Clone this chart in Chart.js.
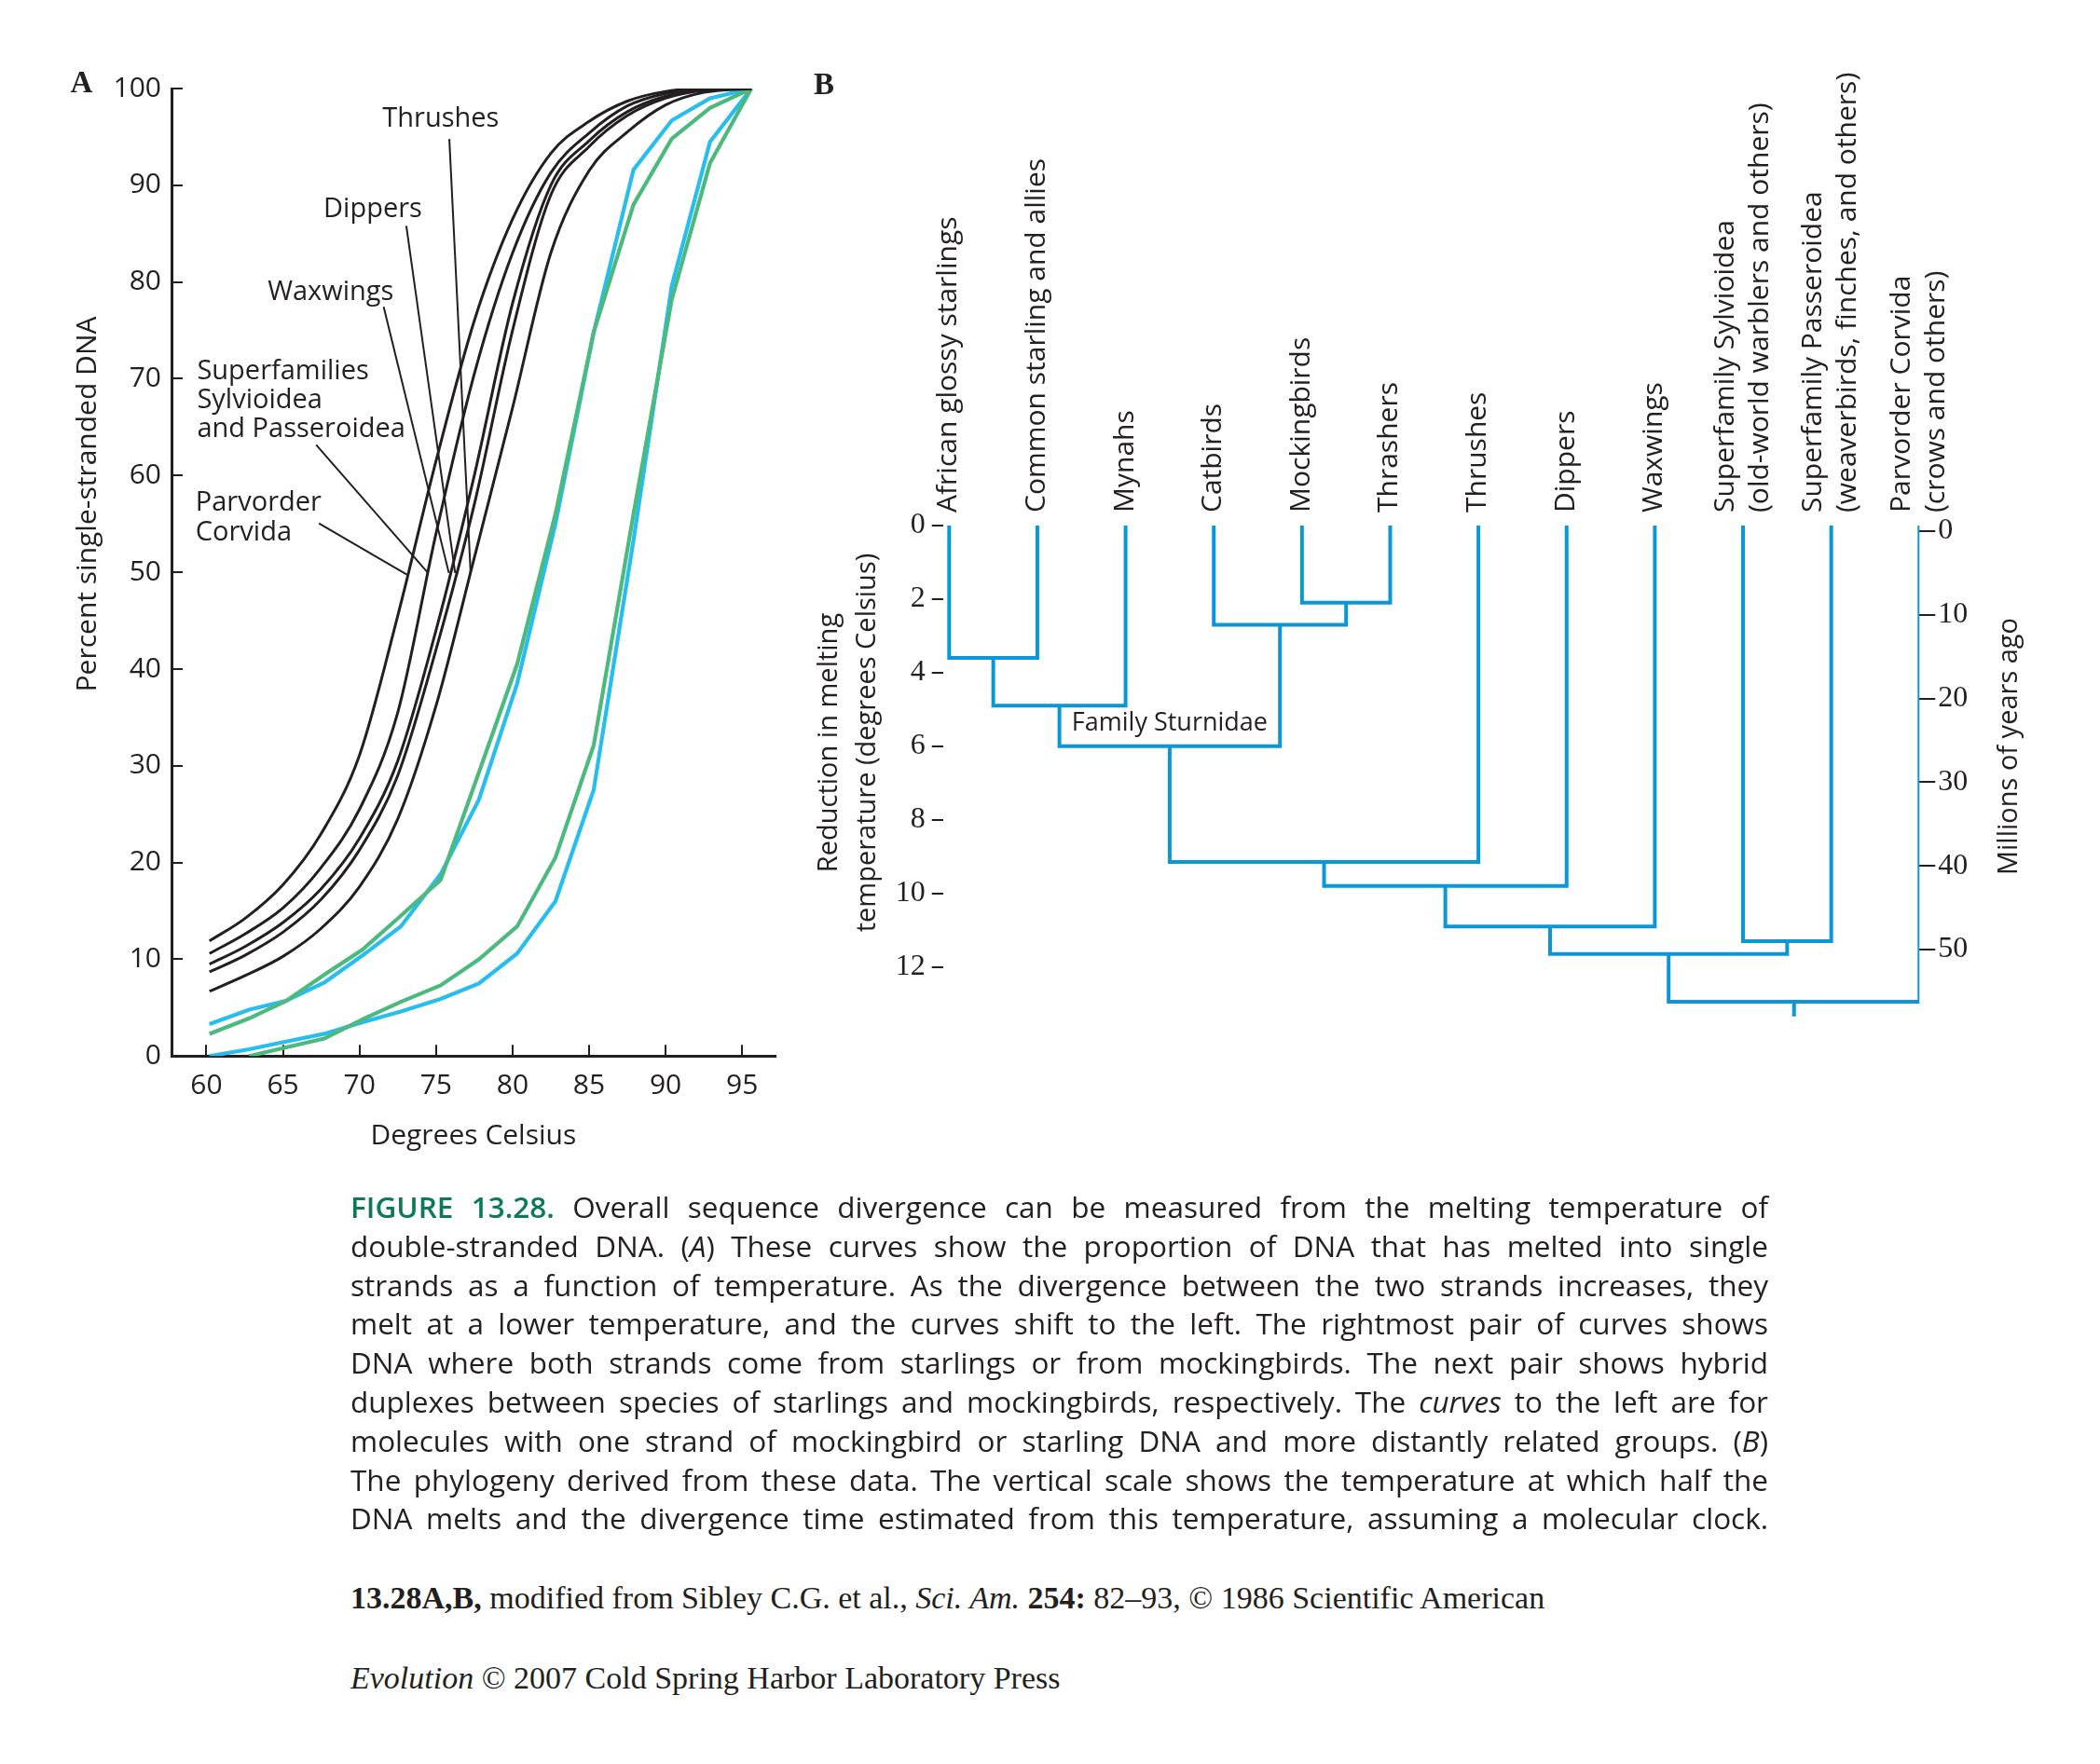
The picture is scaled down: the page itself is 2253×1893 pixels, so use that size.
<!DOCTYPE html>
<html>
<head>
<meta charset="utf-8">
<script src="https://cdn.jsdelivr.net/npm/chart.js@4.4.1/dist/chart.umd.min.js"></script>
<style>
html, body { margin: 0; padding: 0; background: #ffffff; }
body { width: 2253px; height: 1893px; position: relative; overflow: hidden; font-family: "Open Sans", sans-serif; color: #231f20; }
#wrapA { position: absolute; left: 0; top: 0; width: 900px; height: 1300px; }
#wrapB { position: absolute; left: 860px; top: 0; width: 1393px; height: 1150px; }
.caption { position: absolute; left: 376px; top: 1274px; width: 1521px; font-size: 31.5px; line-height: 41.8px; }
.caption div { white-space: nowrap; text-align: justify; text-align-last: justify; }
.fig { color: #0b7a55; font-weight: 600; }
.credit { position: absolute; left: 376px; font-family: "Liberation Serif", serif; font-size: 34px; line-height: 38px; white-space: nowrap; }
</style>
</head>
<body>
<div id="wrapA"><canvas id="chartA" width="900" height="1300"></canvas></div>
<div id="wrapB"><canvas id="chartB" width="1393" height="1150"></canvas></div>

<div class="caption">
<div><span class="fig">FIGURE 13.28.</span> Overall sequence divergence can be measured from the melting temperature of</div>
<div>double-stranded DNA. (<i>A</i>) These curves show the proportion of DNA that has melted into single</div>
<div>strands as a function of temperature. As the divergence between the two strands increases, they</div>
<div>melt at a lower temperature, and the curves shift to the left. The rightmost pair of curves shows</div>
<div>DNA where both strands come from starlings or from mockingbirds. The next pair shows hybrid</div>
<div>duplexes between species of starlings and mockingbirds, respectively. The <i>curves</i> to the left are for</div>
<div>molecules with one strand of mockingbird or starling DNA and more distantly related groups. (<i>B</i>)</div>
<div>The phylogeny derived from these data. The vertical scale shows the temperature at which half the</div>
<div>DNA melts and the divergence time estimated from this temperature, assuming a molecular clock.</div>
</div>
<div class="credit" style="top:1696px;"><b>13.28A,B,</b> modified from Sibley C.G. et al., <i>Sci. Am.</i> <b>254:</b> 82–93, © 1986 Scientific American</div>
<div class="credit" style="top:1782px;"><i>Evolution</i> © 2007 Cold Spring Harbor Laboratory Press</div>

<script>
// ---------------- DATA: panel A (melting curves) ----------------
const xTicksA = [60, 65, 70, 75, 80, 85, 90, 95];
const yTicksA = [0, 10, 20, 30, 40, 50, 60, 70, 80, 90, 100];

const blackTemps = [60.2, 62.5, 65, 67.5, 70, 72.5, 75, 77.5, 80, 82.5, 85, 87.5, 90, 92.5, 95.6];
const corvidaCurve       = [11.9, 14.2, 17.7, 23.0, 31.1, 45.5, 61.5, 76.0, 86.5, 93.3, 96.6, 98.7, 99.7, 100, 100];
const superfamiliesCurve = [10.6, 12.6, 15.3, 19.5, 25.5, 35.5, 54.0, 70.5, 83.0, 91.3, 95.4, 98.2, 99.5, 100, 100];
const waxwingsCurve      = [9.5, 11.3, 13.8, 17.3, 22.5, 30.5, 44.0, 60.0, 77.8, 90.0, 94.6, 97.6, 99.2, 99.9, 100];
const dippersCurve       = [8.7, 10.4, 12.8, 16.2, 21.3, 29.0, 42.0, 57.0, 75.0, 89.0, 94.0, 97.2, 99.0, 99.8, 100];
const thrushesCurve      = [6.7, 8.3, 10.3, 13.2, 17.5, 24.5, 36.2, 51.5, 67.0, 83.0, 91.5, 95.5, 98.3, 99.6, 100];

const colouredTemps = [60.2, 62.8, 65.2, 67.7, 70.2, 72.7, 75.3, 77.8, 80.3, 82.8, 85.3, 87.9, 90.4, 92.9, 95.6];
const hybridBlue  = [3.3, 4.8, 5.7, 7.6, 10.4, 13.4, 18.8, 26.5, 38.5, 55.0, 74.8, 91.6, 96.7, 99.0, 100];
const hybridGreen = [2.3, 3.9, 5.7, 8.4, 11.0, 14.5, 18.2, 29.3, 40.5, 56.0, 74.8, 88.0, 94.8, 98.0, 100];
const sameBlue    = [0, 0.7, 1.5, 2.3, 3.5, 4.6, 5.9, 7.5, 10.6, 16.0, 27.5, 53.3, 79.6, 94.5, 100];
const sameGreen   = [null, 0, 0.9, 1.8, 3.8, 5.6, 7.3, 10.0, 13.4, 20.5, 32.1, 56.0, 78.2, 92.3, 100];

// curve labels with leader lines (data coordinates)
const curveNotes = [
  { lines: ['Thrushes'], align: 'center', x: 75.31, y: [96.83], from: [75.87, 94.79], to: [77.26, 49.93] },
  { lines: ['Dippers'], align: 'center', x: 70.87, y: [87.48], from: [73.06, 85.81], to: [76.25, 49.93] },
  { lines: ['Waxwings'], align: 'center', x: 68.12, y: [78.90], from: [71.58, 77.43], to: [75.84, 49.93] },
  { lines: ['Superfamilies', 'Sylvioidea', 'and Passeroidea'], align: 'left', x: 59.39, y: [70.76, 67.8, 64.8], from: [67.17, 63.18], to: [74.48, 49.93] },
  { lines: ['Parvorder', 'Corvida'], align: 'left', x: 59.29, y: [57.14, 54.09], from: [67.35, 55.05], to: [73.10, 49.76] }
];

// ---------------- DATA: panel B (phylogeny) ----------------
const taxa = [
  ['African glossy starlings'],
  ['Common starling and allies'],
  ['Mynahs'],
  ['Catbirds'],
  ['Mockingbirds'],
  ['Thrashers'],
  ['Thrushes'],
  ['Dippers'],
  ['Waxwings'],
  ['Superfamily Sylvioidea', '(old-world warblers and others)'],
  ['Superfamily Passeroidea', '(weaverbirds, finches, and others)'],
  ['Parvorder Corvida', '(crows and others)']
];
// merges (like a linkage table): node 12 + k joins mergeLeft[k] and mergeRight[k] at mergeTemp[k]
const mergeLeft  = [0, 12, 4, 3, 13, 16, 17, 18, 9, 19, 21];
const mergeRight = [1, 2, 5, 14, 15, 6, 7, 8, 10, 20, 11];
const mergeTemp  = [3.6, 4.9, 2.1, 2.7, 6.0, 9.15, 9.8, 10.9, 11.3, 11.65, 12.95];
const rootStemEnd = 13.35;
const tempTicks = [0, 2, 4, 6, 8, 10, 12];
const myaTicks = [0, 10, 20, 30, 40, 50];
const myaPerDegree = 4.394;
const tempAtZeroMya = 0.15;
const tempMax = 13.4;
const familyNote = { text: 'Family Sturnidae', node: 16, temp: 5.37 };

// ---------------- styles ----------------
const ink = '#231f20';
const cyan = '#27bdee';
const green = '#4cb97e';
const treeBlue = '#0a97d8';
Chart.defaults.font.family = '"Open Sans", sans-serif';
Chart.defaults.color = ink;

const pts = (xs, ys) => xs.map((v, i) => ({ x: v, y: ys[i] }));
const blackSet = (vals) => ({ data: pts(blackTemps, vals), borderColor: ink, borderWidth: 3, pointRadius: 0, cubicInterpolationMode: 'monotone', fill: false });
const colourSet = (vals, c) => ({ data: pts(colouredTemps, vals), borderColor: c, borderWidth: 4.2, pointRadius: 0, tension: 0, fill: false, borderJoinStyle: 'miter' });

const annotA = {
  id: 'annotA',
  afterDatasetsDraw(chart) {
    const { ctx, scales: { x, y } } = chart;
    ctx.save();
    ctx.fillStyle = ink;
    ctx.strokeStyle = ink;
    ctx.lineWidth = 2;
    ctx.font = '29px "Open Sans"';
    ctx.textBaseline = 'middle';
    curveNotes.forEach(n => {
      ctx.beginPath();
      ctx.moveTo(x.getPixelForValue(n.from[0]), y.getPixelForValue(n.from[1]));
      ctx.lineTo(x.getPixelForValue(n.to[0]), y.getPixelForValue(n.to[1]));
      ctx.stroke();
      ctx.textAlign = n.align;
      n.lines.forEach((s, j) => ctx.fillText(s, x.getPixelForValue(n.x), y.getPixelForValue(n.y[j])));
    });
    // y axis title
    ctx.save();
    ctx.translate(94.7, 541);
    ctx.rotate(-Math.PI / 2);
    ctx.textAlign = 'center';
    ctx.font = '30px "Open Sans"';
    ctx.fillText('Percent single-stranded DNA', 0, 0);
    ctx.restore();
    // panel letter
    ctx.font = 'bold 33px "Liberation Serif"';
    ctx.textAlign = 'center';
    ctx.fillText('A', 87.5, 90);
    ctx.restore();
  }
};

new Chart(document.getElementById('chartA'), {
  type: 'line',
  data: {
    datasets: [
      blackSet(corvidaCurve), blackSet(superfamiliesCurve), blackSet(waxwingsCurve), blackSet(dippersCurve), blackSet(thrushesCurve),
      colourSet(hybridGreen, green), colourSet(hybridBlue, cyan),
      colourSet(sameGreen, green), colourSet(sameBlue, cyan)
    ]
  },
  options: {
    responsive: false, animation: false, events: [],
    layout: { padding: { top: 95, right: 68.3, bottom: 0, left: 0 } },
    plugins: { legend: { display: false }, tooltip: { enabled: false } },
    scales: {
      x: {
        type: 'linear', min: 57.72, max: 97.16,
        afterBuildTicks: s => { s.ticks = xTicksA.map(v => ({ value: v })); },
        afterFit: s => { s.height = 166.7; },
        grid: { drawOnChartArea: false, tickLength: -12, color: ink, lineWidth: 2 },
        border: { display: true, color: ink, width: 3 },
        ticks: { padding: 26, maxRotation: 0, autoSkip: false, color: ink, font: { size: 30 } },
        title: { display: true, text: 'Degrees Celsius', color: ink, font: { size: 30 }, padding: { top: 0, bottom: 63 } }
      },
      y: {
        type: 'linear', min: 0, max: 100,
        afterBuildTicks: s => { s.ticks = yTicksA.map(v => ({ value: v })); },
        afterFit: s => { s.width = 184; },
        grid: { drawOnChartArea: false, tickLength: -12, color: ink, lineWidth: 2 },
        border: { display: true, color: ink, width: 3 },
        ticks: { padding: 23, autoSkip: false, color: ink, font: { size: 30 } }
      }
    }
  },
  plugins: [annotA]
});

// ---------------- panel B ----------------
const nodeX = taxa.map((t, i) => i);
const nodeH = taxa.map(() => 0);
const treeSets = [];
mergeLeft.forEach((l, k) => {
  const r = mergeRight[k];
  const h = mergeTemp[k];
  nodeX.push((nodeX[l] + nodeX[r]) / 2);
  nodeH.push(h);
  treeSets.push({
    data: [{ x: nodeX[l], y: nodeH[l] }, { x: nodeX[l], y: h }, { x: nodeX[r], y: h }, { x: nodeX[r], y: nodeH[r] }],
    borderColor: treeBlue, borderWidth: 4, pointRadius: 0, tension: 0, fill: false,
    borderJoinStyle: 'miter', borderCapStyle: 'butt', yAxisID: 'y'
  });
});
const rootId = nodeX.length - 1;
treeSets.push({
  data: [{ x: nodeX[rootId], y: nodeH[rootId] }, { x: nodeX[rootId], y: rootStemEnd }],
  borderColor: treeBlue, borderWidth: 4, pointRadius: 0, tension: 0, fill: false, yAxisID: 'y'
});

const treeText = {
  id: 'treeText',
  afterDraw(chart) {
    const { ctx, scales: { x, y } } = chart;
    ctx.save();
    ctx.fillStyle = ink;
    // taxon labels
    ctx.font = '30px "Open Sans"';
    ctx.textAlign = 'left';
    ctx.textBaseline = 'alphabetic';
    const base = y.getPixelForValue(0) - 14;
    taxa.forEach((lines, i) => {
      const px = x.getPixelForValue(i);
      lines.forEach((s, j) => {
        const off = (j - (lines.length - 1) / 2) * 37 + 8;
        ctx.save();
        ctx.translate(px + off, base);
        ctx.rotate(-Math.PI / 2);
        ctx.fillText(s, 0, 0);
        ctx.restore();
      });
    });
    // family note
    ctx.font = '27px "Open Sans"';
    ctx.textAlign = 'center';
    ctx.textBaseline = 'middle';
    ctx.fillText(familyNote.text, x.getPixelForValue(nodeX[familyNote.node]), y.getPixelForValue(familyNote.temp));
    // axis titles
    ctx.font = '29px "Open Sans"';
    const rot = (txt, cx, cy) => { ctx.save(); ctx.translate(cx, cy); ctx.rotate(-Math.PI / 2); ctx.fillText(txt, 0, 0); ctx.restore(); };
    rot('Reduction in melting', 30, 797);
    rot('temperature (degrees Celsius)', 70.4, 797);
    rot('Millions of years ago', 1295.4, 801);
    // panel letter
    ctx.font = 'bold 33px "Liberation Serif"';
    ctx.fillText('B', 24, 92);
    ctx.restore();
  }
};

new Chart(document.getElementById('chartB'), {
  type: 'line',
  data: { datasets: treeSets },
  options: {
    responsive: false, animation: false, events: [],
    layout: { padding: { top: 564, right: 0, bottom: 57.2, left: 0 } },
    plugins: { legend: { display: false }, tooltip: { enabled: false } },
    scales: {
      x: { type: 'linear', min: -0.07, max: taxa.length - 1, display: false },
      y: {
        type: 'linear', position: 'left', reverse: true, min: 0, max: tempMax,
        afterBuildTicks: s => { s.ticks = tempTicks.map(v => ({ value: v })); },
        afterFit: s => { s.width = 151.7; },
        grid: { drawOnChartArea: false, tickLength: 12, color: ink, lineWidth: 2 },
        border: { display: false },
        ticks: { padding: 7, autoSkip: false, color: ink, font: { family: '"Liberation Serif", serif', size: 32 } }
      },
      y2: {
        type: 'linear', position: 'right', reverse: true,
        min: (0 - tempAtZeroMya) * myaPerDegree, max: (tempMax - tempAtZeroMya) * myaPerDegree,
        afterBuildTicks: s => { s.ticks = myaTicks.map(v => ({ value: v })); },
        afterFit: s => { s.width = 193.7; },
        grid: { drawOnChartArea: false, tickLength: 17, color: ink, lineWidth: 2 },
        border: { display: false },
        ticks: { padding: 3, autoSkip: false, color: ink, font: { family: '"Liberation Serif", serif', size: 32 } }
      }
    }
  },
  plugins: [treeText]
});
</script>
</body>
</html>
